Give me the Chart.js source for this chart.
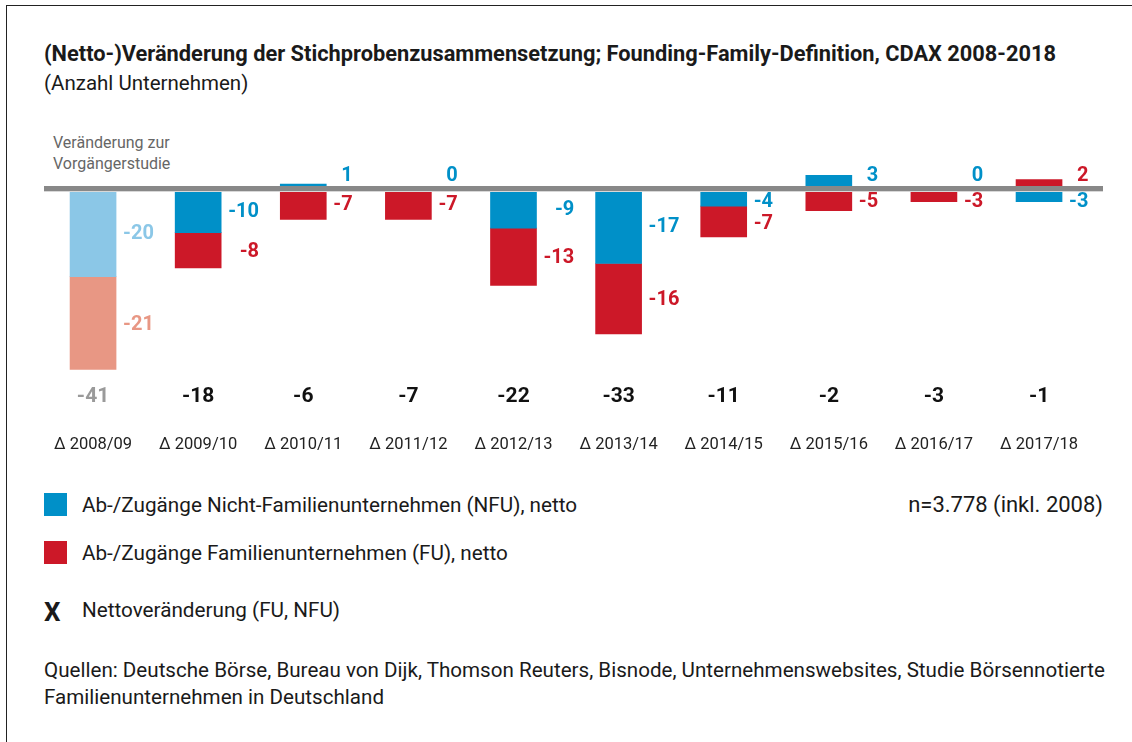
<!DOCTYPE html>
<html lang="de">
<head>
    <meta charset="UTF-8">
    <title>Netto-Veränderung der Stichprobenzusammensetzung</title>
    <style>
        body {
            margin: 0;
            width: 1132px;
            height: 742px;
            position: relative;
            background: #fff;
            font-family: Roboto, "Open Sans", sans-serif;
            color: #1a1a1a;
            overflow: hidden;
        }

        .frame {
            position: absolute;
            left: 6px;
            top: 5px;
            width: 1200px;
            height: 800px;
            border-top: 1.5px solid #222;
            border-left: 1.5px solid #222;
        }

        .txt {
            position: absolute;
            line-height: 1;
            white-space: nowrap;
        }

        .title { left: 44px; top: 43px; font-size: 21.8px; font-weight: bold; }
        .subtitle { left: 44px; top: 72.5px; font-size: 20.5px; }
        .note { left: 53px; top: 132px; font-size: 16px; line-height: 21px; color: #666; }
        .leg { left: 82px; font-size: 20.7px; }

        .legend-box {
            position: absolute;
            left: 44px;
            width: 23px;
            height: 23px;
        }

        .legend-x {
            position: absolute;
            left: 44px;
            top: 599px;
            font-size: 26px;
            font-weight: bold;
            line-height: 1;
        }

        .source { left: 44px; top: 657px; font-size: 20.6px; line-height: 27px; white-space: normal; width: 1080px; }

        #chartBox {
            position: absolute;
            left: 0;
            top: 0;
            width: 1132px;
            height: 470px;
        }
    </style>
</head>
<body>
    <div class="frame"></div>

    <div class="txt title">(Netto-)Veränderung der Stichprobenzusammensetzung; Founding-Family-Definition, CDAX 2008-2018</div>
    <div class="txt subtitle">(Anzahl Unternehmen)</div>
    <div class="txt note">Veränderung zur<br>Vorgängerstudie</div>

    <div id="chartBox"><canvas id="chart"></canvas></div>

    <!-- Legend -->
    <div class="legend-box" style="top:493px; background:#0090c8;"></div>
    <div class="txt leg" style="top:494.5px;">Ab-/Zugänge Nicht-Familienunternehmen (NFU), netto</div>
    <div class="txt" style="right:29px; top:494px; font-size:22px;">n=3.778 (inkl. 2008)</div>

    <div class="legend-box" style="top:541px; background:#cc1828;"></div>
    <div class="txt leg" style="top:542.5px;">Ab-/Zugänge Familienunternehmen (FU), netto</div>

    <div class="legend-x">X</div>
    <div class="txt leg" style="top:599.5px;">Nettoveränderung (FU, NFU)</div>

    <div class="txt source">Quellen: Deutsche Börse, Bureau von Dijk, Thomson Reuters, Bisnode, Unternehmenswebsites, Studie Börsennotierte Familienunternehmen in Deutschland</div>

    <script src="https://cdn.jsdelivr.net/npm/chart.js"></script>
    <script>
        // Data
        const periods = ['Δ 2008/09', 'Δ 2009/10', 'Δ 2010/11', 'Δ 2011/12', 'Δ 2012/13',
                         'Δ 2013/14', 'Δ 2014/15', 'Δ 2015/16', 'Δ 2016/17', 'Δ 2017/18'];
        const nfuChange = [-20, -10, 1, 0, -9, -17, -4, 3, 0, -3];
        const fuChange = [-21, -8, -7, -7, -13, -16, -7, -5, -3, 2];

        // Colours (first period is shown lighter)
        const blue = '#0090c8', blueLight = '#8bc7e7';
        const red = '#cc1828', redLight = '#e89784';
        const nfuColors = periods.map((p, i) => i === 0 ? blueLight : blue);
        const fuColors = periods.map((p, i) => i === 0 ? redLight : red);

        const labelFont = 'bold 20px Roboto, "Open Sans", sans-serif';
        const totalFont = 'bold 21px Roboto, "Open Sans", sans-serif';

        // Zero line + value labels + net totals
        const annotations = {
            id: 'annotations',
            afterDatasetsDraw(chart) {
                const ctx = chart.ctx;
                const y = chart.scales.y;
                const y0 = y.getPixelForValue(0);

                ctx.save();
                ctx.fillStyle = '#888';
                ctx.fillRect(44, y0 - 2.5, 1059, 5);
                ctx.fillStyle = '#d8d8d8';
                ctx.fillRect(44, y0 + 2.5, 1059, 1);

                const metas = [chart.getDatasetMeta(0), chart.getDatasetMeta(1)];
                ctx.font = labelFont;
                ctx.textBaseline = 'middle';
                ctx.textAlign = 'right';

                periods.forEach((p, i) => {
                    const items = metas.map((meta, d) => {
                        const el = meta.data[i];
                        const v = chart.data.datasets[d].data[i];
                        return {
                            text: String(v),
                            v: v,
                            color: chart.data.datasets[d].labelColors[i],
                            mid: (el.y + el.base) / 2,
                            right: el.x + el.width / 2
                        };
                    });
                    const maxW = Math.max(...items.map(it => ctx.measureText(it.text).width));
                    const xRight = items[0].right + 7 + maxW;

                    let lastNeg = y0 + 13.5 - 22;
                    items.slice().sort((a, b) => a.mid - b.mid).forEach(it => {
                        let ty;
                        if (it.v >= 0) {
                            ty = y0 - 12.5;
                        } else {
                            ty = Math.max(it.mid + 1.5, y0 + 13.5, lastNeg + 22);
                            lastNeg = ty;
                        }
                        ctx.fillStyle = it.color;
                        ctx.fillText(it.text, xRight, ty);
                    });

                    // net change below the bars
                    const total = nfuChange[i] + fuChange[i];
                    ctx.save();
                    ctx.font = totalFont;
                    ctx.textAlign = 'center';
                    ctx.fillStyle = i === 0 ? '#9a9a9a' : '#111';
                    ctx.fillText(String(total), metas[0].data[i].x, 397);
                    ctx.restore();
                });
                ctx.restore();
            }
        };

        new Chart(document.getElementById('chart'), {
            type: 'bar',
            data: {
                labels: periods,
                datasets: [
                    {
                        label: 'Ab-/Zugänge Nicht-Familienunternehmen (NFU), netto',
                        data: nfuChange,
                        backgroundColor: nfuColors,
                        labelColors: nfuColors,
                        barThickness: 46
                    },
                    {
                        label: 'Ab-/Zugänge Familienunternehmen (FU), netto',
                        data: fuChange,
                        backgroundColor: fuColors,
                        labelColors: fuColors,
                        barThickness: 46
                    }
                ]
            },
            options: {
                responsive: true,
                maintainAspectRatio: false,
                animation: false,
                layout: {
                    padding: { left: 40.5, right: 37.5, top: 162.04, bottom: 0 }
                },
                plugins: {
                    legend: { display: false },
                    tooltip: { enabled: false }
                },
                scales: {
                    x: {
                        stacked: true,
                        grid: { display: false, drawTicks: false },
                        border: { display: false },
                        ticks: {
                            autoSkip: false,
                            maxRotation: 0,
                            padding: 52,
                            color: '#222',
                            font: { family: 'Roboto, "Open Sans", sans-serif', size: 16.5 }
                        },
                        afterFit(scale) { scale.height = 87.46; }
                    },
                    y: {
                        stacked: true,
                        display: false,
                        min: -44,
                        max: 6
                    }
                }
            },
            plugins: [annotations]
        });
    </script>
</body>
</html>
